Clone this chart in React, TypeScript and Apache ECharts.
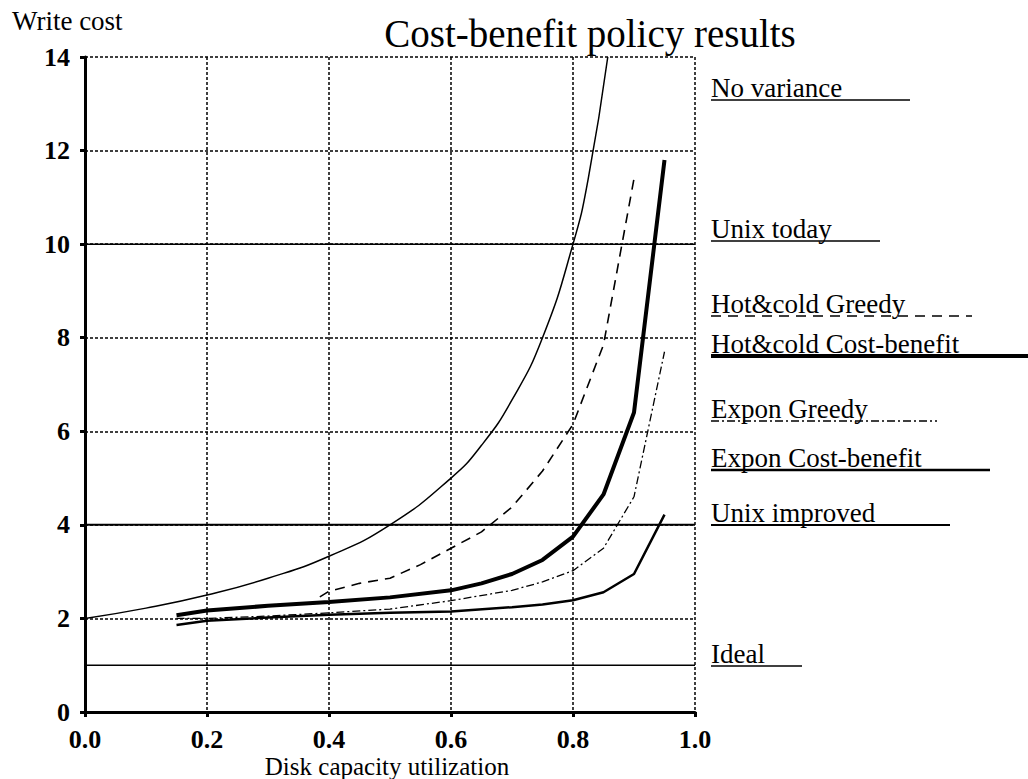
import React, { useEffect, useRef } from "react";
import * as echarts from "echarts";

const xTicks = [0, 0.2, 0.4, 0.6, 0.8, 1.0];
const yTicks = [0, 2, 4, 6, 8, 10, 12, 14];

const noVarianceX = [0, 0.1, 0.2, 0.3, 0.4, 0.5, 0.6, 0.65, 0.7, 0.75, 0.8, 0.825, 0.857];
const noVarianceY = [2, 2.22, 2.5, 2.86, 3.33, 4, 5, 5.7, 6.67, 8, 10, 11.4, 14];

const hcCostBenefitX = [0.15, 0.2, 0.3, 0.4, 0.5, 0.6, 0.65, 0.7, 0.75, 0.8, 0.85, 0.9, 0.95];
const hcCostBenefitY = [2.07, 2.17, 2.27, 2.35, 2.45, 2.6, 2.75, 2.95, 3.25, 3.75, 4.65, 6.4, 11.8];

const hcGreedyX = [0.385, 0.4, 0.45, 0.5, 0.55, 0.6, 0.65, 0.7, 0.75, 0.8, 0.85, 0.9];
const hcGreedyY = [2.46, 2.58, 2.75, 2.86, 3.15, 3.5, 3.85, 4.38, 5.15, 6.15, 7.85, 11.4];

const exGreedyX = [0.15, 0.2, 0.3, 0.4, 0.5, 0.6, 0.7, 0.75, 0.8, 0.85, 0.9, 0.95];
const exGreedyY = [2.0, 2.0, 2.05, 2.12, 2.2, 2.38, 2.6, 2.78, 3.02, 3.5, 4.6, 7.7];

const exCostBenefitX = [0.15, 0.2, 0.3, 0.4, 0.5, 0.6, 0.7, 0.75, 0.8, 0.85, 0.9, 0.95];
const exCostBenefitY = [1.86, 1.95, 2.02, 2.08, 2.12, 2.15, 2.24, 2.3, 2.39, 2.56, 2.95, 4.22];

const unixToday = 10;
const unixImproved = 4;
const ideal = 1;

const legendLabels = [
  "No variance",
  "Unix today",
  "Hot&cold Greedy",
  "Hot&cold Cost-benefit",
  "Expon Greedy",
  "Expon Cost-benefit",
  "Unix improved",
  "Ideal",
];

const FONT = "'Liberation Serif', 'Times New Roman', Times, serif";

const zip = (xs: number[], ys: number[]) => xs.map((x, i) => [x, ys[i]]);

export default function App() {
  const ref = useRef<HTMLDivElement>(null);
  useEffect(() => {
    if (!ref.current) return;
    const chart = echarts.init(ref.current, undefined, { renderer: "svg" });

    const legendLayout = [
      { y: 97, x2: 910, w: 1.5, dash: undefined as any },
      { y: 238, x2: 880, w: 1.5, dash: undefined },
      { y: 313, x2: 972, w: 1.5, dash: [10, 7] },
      { y: 353, x2: 1028, w: 4, dash: undefined },
      { y: 418, x2: 937, w: 1.3, dash: [8, 3, 2, 3] },
      { y: 467, x2: 990, w: 2.5, dash: undefined },
      { y: 522, x2: 950, w: 2, dash: undefined },
      { y: 663, x2: 802, w: 1.5, dash: undefined },
    ];

    const graphics: any[] = [
      {
        type: "text",
        left: 12,
        top: 7,
        style: { text: "Write cost", font: `27px ${FONT}`, fill: "#000" },
      },
      {
        type: "text",
        x: 590,
        y: 53,
        style: {
          text: "Cost-benefit policy results",
          font: `39px ${FONT}`,
          fill: "#000",
          textAlign: "center",
          textVerticalAlign: "bottom",
        },
      },
      {
        type: "text",
        x: 387,
        y: 779,
        style: {
          text: "Disk capacity utilization",
          font: `25px ${FONT}`,
          fill: "#000",
          textAlign: "center",
          textVerticalAlign: "bottom",
        },
      },
    ];
    legendLabels.forEach((label, i) => {
      const l = legendLayout[i];
      graphics.push({
        type: "text",
        x: 711,
        y: l.y + 4,
        style: {
          text: label,
          font: `27px ${FONT}`,
          fill: "#000",
          textAlign: "left",
          textVerticalAlign: "bottom",
        },
      });
      graphics.push({
        type: "line",
        shape: { x1: 711, y1: l.y + 3, x2: l.x2, y2: l.y + 3 },
        style: { stroke: "#000", lineWidth: l.w, lineDash: l.dash },
      });
    });

    const mkLine = (name: string, data: number[][], width: number, type: any, smooth = false) => ({
      name,
      type: "line",
      data,
      showSymbol: false,
      symbol: "none",
      smooth,
      lineStyle: { color: "#000", width, type },
      z: 3,
    });

    chart.setOption({
      animation: false,
      backgroundColor: "#fff",
      grid: { left: 85, right: 333, top: 57, bottom: 67, containLabel: false },
      xAxis: {
        type: "value",
        min: 0,
        max: 1,
        interval: 0.2,
        axisLine: { show: true, lineStyle: { color: "#000", width: 3 } },
        axisTick: { show: true, length: 5, inside: false, lineStyle: { color: "#000", width: 3 } },
        axisLabel: {
          margin: 14,
          color: "#000",
          fontFamily: FONT,
          fontSize: 26,
          fontWeight: "bold",
          formatter: (v: number) => (xTicks.some((t) => Math.abs(t - v) < 1e-6) ? v.toFixed(1) : ""),
        },
        splitLine: { show: true, lineStyle: { color: "#000", width: 1.5, type: [3, 2] } },
      },
      yAxis: {
        type: "value",
        min: 0,
        max: 14,
        interval: 2,
        axisLine: { show: true, lineStyle: { color: "#000", width: 3 } },
        axisTick: { show: true, length: 5, lineStyle: { color: "#000", width: 3 } },
        axisLabel: {
          margin: 15,
          color: "#000",
          fontFamily: FONT,
          fontSize: 26,
          fontWeight: "bold",
          formatter: (v: number) => (yTicks.includes(v) ? String(v) : ""),
        },
        splitLine: { show: true, lineStyle: { color: "#000", width: 1.5, type: [3, 2] } },
      },
      series: [
        mkLine("No variance", zip(noVarianceX, noVarianceY), 1.5, "solid", true),
        mkLine("Unix today", [[0, unixToday], [1, unixToday]], 1.5, "solid"),
        mkLine("Hot&cold Greedy", zip(hcGreedyX, hcGreedyY), 1.6, [10, 7]),
        mkLine("Hot&cold Cost-benefit", zip(hcCostBenefitX, hcCostBenefitY), 4, "solid"),
        mkLine("Expon Greedy", zip(exGreedyX, exGreedyY), 1.3, [8, 3, 2, 3]),
        mkLine("Expon Cost-benefit", zip(exCostBenefitX, exCostBenefitY), 2.5, "solid"),
        mkLine("Unix improved", [[0, unixImproved], [1, unixImproved]], 2, "solid"),
        mkLine("Ideal", [[0, ideal], [1, ideal]], 1.5, "solid"),
      ],
      graphic: graphics,
    });
    return () => chart.dispose();
  }, []);
  return <div ref={ref} style={{ width: 1028, height: 779, position: "absolute", left: 0, top: 0 }} />;
}
